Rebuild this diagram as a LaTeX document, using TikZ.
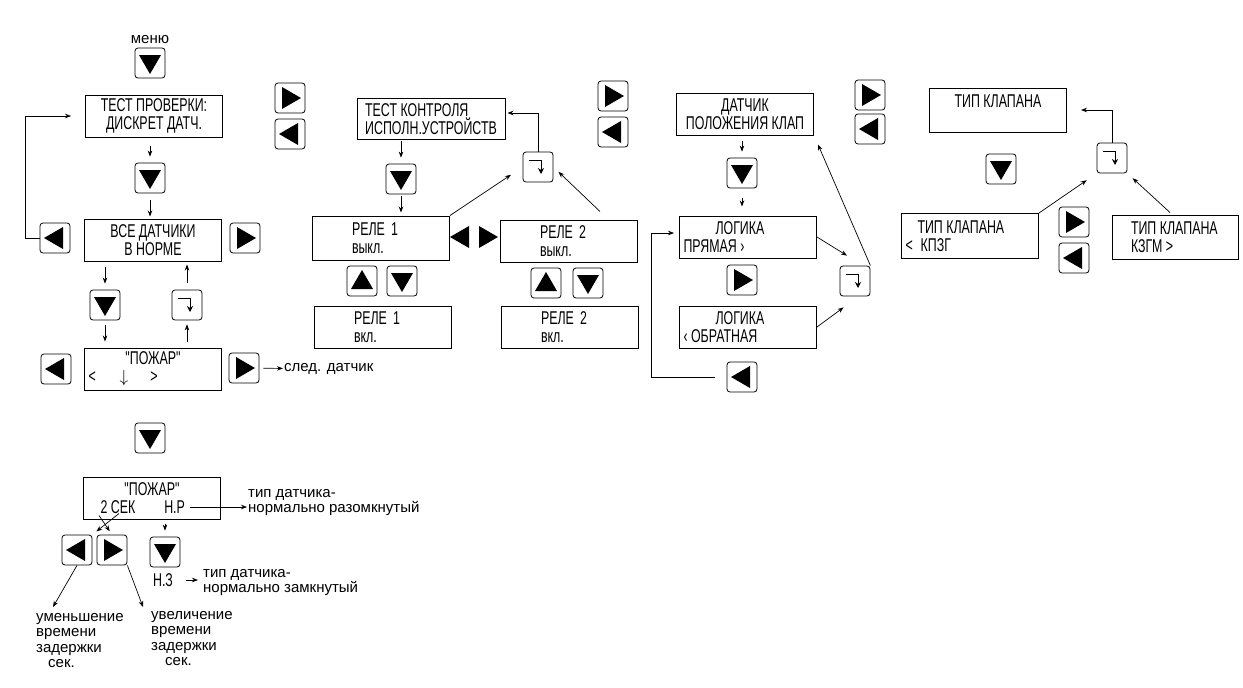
\documentclass[tikz,border=0pt]{standalone}
\usepackage{fontspec}
\setmainfont{Liberation Sans}
\newfontfamily\lcdfont[FakeStretch=0.67]{Liberation Sans}
\usetikzlibrary{arrows.meta,calc,positioning}

\tikzstyle{lcd}=[draw, line width=1pt, minimum width=137pt, minimum height=42pt, inner sep=3pt, align=center, font=\lcdfont\fontsize{18.5}{18}\selectfont]
\tikzstyle{lcdrele}=[lcd, text width=58pt, align=left]
\tikzstyle{note}=[inner sep=1pt, align=left, font=\fontsize{15}{15}\selectfont]
\tikzstyle{arr}=[-{Stealth[length=6pt,width=4.5pt]}, line width=0.7pt]
\tikzstyle{key}=[draw, rounded corners=3pt, minimum size=30pt, inner sep=0pt, line width=0.8pt]
\tikzstyle{tridown}=[path picture={\fill[sharp corners] ($(path picture bounding box.center)+(-11pt,8pt)$) -- ++(22pt,0pt) -- ++(-11pt,-19pt) -- cycle;}]
\tikzstyle{triup}=[path picture={\fill[sharp corners] ($(path picture bounding box.center)+(-11pt,-8pt)$) -- ++(22pt,0pt) -- ++(-11pt,19pt) -- cycle;}]
\tikzstyle{triright}=[path picture={\fill[sharp corners] ($(path picture bounding box.center)+(-8pt,11pt)$) -- ++(0pt,-22pt) -- ++(19pt,11pt) -- cycle;}]
\tikzstyle{trileft}=[path picture={\fill[sharp corners] ($(path picture bounding box.center)+(8pt,11pt)$) -- ++(0pt,-22pt) -- ++(-19pt,11pt) -- cycle;}]
\tikzstyle{kdown}=[key, tridown]
\tikzstyle{kup}=[key, triup]
\tikzstyle{kright}=[key, triright]
\tikzstyle{kleft}=[key, trileft]
\tikzstyle{kenter}=[key, path picture={\draw[sharp corners, line width=0.9pt, -{Stealth[length=6pt,width=6pt]}] ($(path picture bounding box.center)+(-9pt,7pt)$) -- ++(12pt,0pt) -- ++(0pt,-14pt);}]

\begin{document}
\begin{tikzpicture}[x=1pt, y=-1pt]
\fill[white] (0,0) rectangle (1243,688);
\useasboundingbox (0,0) rectangle (1243,688);

% keys
    \foreach \pos/\name in {{(150,63)/kmenu}, {(150,178)/kd1}, {(105,305)/kd2}, {(150,438)/kd3}, {(165,552)/kd4}, {(401,179)/kd5}, {(402,281)/kd6}, {(588,283)/kd7}, {(742,173)/kd8}, {(1001,169)/kd9}}
        \node[kdown] (\name) at \pos {};
    \foreach \pos/\name in {{(362,281)/ku1}, {(546,283)/ku2}}
        \node[kup] (\name) at \pos {};
    \foreach \pos/\name in {{(290,98)/kr1}, {(245,238)/kr2}, {(244,368)/kr3}, {(112,550)/kr4}, {(613,96)/kr5}, {(742,280)/kr6}, {(870,95)/kr7}, {(1074,222)/kr8}}
        \node[kright] (\name) at \pos {};
    \foreach \pos/\name in {{(290,134)/kl1}, {(55,238)/kl2}, {(56,369)/kl3}, {(77,550)/kl4}, {(613,132)/kl5}, {(742,377)/kl6}, {(870,129)/kl7}, {(1074,258)/kl8}}
        \node[kleft] (\name) at \pos {};
    \foreach \pos/\name in {{(187,305)/ke1}, {(538,167)/ke2}, {(855,281)/ke3}, {(1112,158)/ke4}}
        \node[kenter] (\name) at \pos {};
    \node[trileft, minimum size=24pt, inner sep=0pt] (tl) at (461,237) {};
    \node[triright, minimum size=24pt, inner sep=0pt] (tr) at (487,237) {};

% displays
    \node[lcd] (b1) at (154,116) {ТЕСТ ПРОВЕРКИ:\\ДИСКРЕТ ДАТЧ.};
    \node[lcd] (b2) at (153,240) {ВСЕ ДАТЧИКИ\\В НОРМЕ};
    \node[lcd] (b3) at (153,369) {"ПОЖАР"\\\makebox[129pt][l]{<\hspace{24pt}$\downarrow$\hspace{22pt}>}};
    \node[lcd] (b4) at (152,498) {"ПОЖАР"\\\makebox[129pt][l]{\hspace{13pt}2 СЕК\hspace{29pt}Н.Р}};
    \node[lcd, minimum width=148pt, minimum height=41pt, align=left] (b5) at (431,119) {ТЕСТ КОНТРОЛЯ\\ИСПОЛН.УСТРОЙСТВ};
    \node[lcdrele, minimum height=44pt] (b6) at (381,238) {РЕЛЕ 1\\выкл.};
    \node[lcdrele] (b7) at (569,241) {РЕЛЕ 2\\выкл.};
    \node[lcdrele] (b8) at (383,327) {РЕЛЕ 1\\вкл.};
    \node[lcdrele] (b9) at (570,327) {РЕЛЕ 2\\вкл.};
    \node[lcd] (b10) at (745,114) {ДАТЧИК\\ПОЛОЖЕНИЯ КЛАП};
    \node[lcd] (b11) at (748,237) {\makebox[129pt][l]{\hspace{32pt}ЛОГИКА}\\\makebox[129pt][l]{ПРЯМАЯ ›}};
    \node[lcd] (b12) at (748,327) {\makebox[129pt][l]{\hspace{32pt}ЛОГИКА}\\\makebox[129pt][l]{‹ ОБРАТНАЯ}};
    \node[lcd, minimum height=44pt] (b13) at (998,110) {ТИП КЛАПАНА\\\mbox{}};
    \node[lcd, minimum height=45pt] (b14) at (970,236) {\makebox[129pt][l]{\hspace{12pt}ТИП КЛАПАНА}\\\makebox[129pt][l]{<\hspace{8pt}КПЗГ}};
    \node[lcd, minimum width=126pt, minimum height=44pt] (b15) at (1175,237) {\makebox[118pt][l]{\hspace{15pt}ТИП КЛАПАНА}\\\makebox[118pt][l]{\hspace{15pt}КЗГМ >}};

% notes
    \node[note] (t0) at (150,40) {меню};
    \node[note, anchor=west] (t1) at (283,369) {след. датчик};
    \node[note, anchor=west] (t2) at (247,503) {тип датчика-\\нормально разомкнутый};
    \node[inner sep=0pt, font=\lcdfont\fontsize{18.5}{18}\selectfont] (t3) at (163,580) {Н.З};
    \node[note, anchor=west] (t4) at (202,583) {тип датчика-\\нормально замкнутый};
    \node[note, anchor=north west, font=\fontsize{15}{15.5}\selectfont] (t5) at (35,612) {уменьшение\\времени\\задержки\\\hspace*{12pt}сек.};
    \node[note, anchor=north west, font=\fontsize{15}{15.5}\selectfont] (t6) at (150,610) {увеличение\\времени\\задержки\\\hspace*{14pt}сек.};
    \coordinate (np) at (190,507);

% connectors, first column
    \draw[arr, shorten <=8pt, shorten >=6pt] (b1.south -| kd1) -- (kd1);
    \draw[arr, shorten <=7pt, shorten >=2pt] (kd1) -- (kd1 |- b2.north);
    \draw[arr, shorten <=5pt, shorten >=6pt] (b2.south -| kd2) -- (kd2);
    \draw[arr, shorten <=5pt, shorten >=6pt] (kd2) -- (kd2 |- b3.north);
    \draw[arr, shorten <=6pt, shorten >=4pt] (b3.north -| ke1) -- (ke1);
    \draw[arr, shorten <=7pt, shorten >=3pt] (ke1) -- (ke1 |- b2.south);
    \draw[arr, shorten >=14pt] (kl2.west) -- ++(-14,0) |- (b1.west);
    \draw[arr, shorten <=4pt] (kr3) -- (t1);
    \draw[arr] (np) -- (np -| t2.west);
    \draw[arr, shorten >=5pt] ($(b4.south west)+(36,-6)$) -- (kl4.north east);
    \draw[arr, shorten >=4pt] ($(b4.south west)+(16,-4)$) -- (kr4.north);
    \draw[arr, shorten <=4pt, shorten >=6pt] (b4.south -| kd4) -- (kd4);
    \draw[arr, shorten <=13pt, shorten >=4pt] (t3) -- (t3 -| t4.west);
    \draw[arr] (kl4.south) -- ($(t5.north west)+(18,-5)$);
    \draw[arr] (kr4.south east) -- ($(t6.north west)+(-7,-3)$);

% relays
    \draw[arr, shorten <=1pt, shorten >=6pt] (b5.south -| kd5) -- (kd5);
    \draw[arr, shorten <=2pt, shorten >=3pt] (kd5) -- (kd5 |- b6.north);
    \draw[arr, shorten >=14pt] (b6.north east) -- (ke2.west);
    \draw[arr, shorten >=7pt] ($(b7.north)+(31,-8)$) -- (ke2.east);
    \draw[arr] (ke2) |- ($(b5.east)+(2,-6)$);

% damper sensor
    \draw[arr, shorten <=5pt, shorten >=6pt] (b10.south -| kd8) -- (kd8);
    \draw[arr, shorten <=10pt, shorten >=9pt] (kd8) -- (kd8 |- b11.north);
    \draw[arr] (b11.east) -- ($(ke3.north)+(-8,-10)$);
    \draw[arr] (b12.east) -- ($(ke3.south west)+(4,11)$);
    \draw[arr] (ke3.north east) -- ($(b10.south east)+(4,9)$);
    \draw[arr, shorten <=12pt, shorten >=5pt] (kl6.west) -- ++(-75,0) |- ($(b11.west)+(0,-4)$);

% valve type
    \draw[arr, shorten >=14pt] (ke4) |- (b13.east);
    \draw[arr, shorten >=12pt] (b14.north east) -- (ke4.south west);
    \draw[arr, shorten >=7pt] ($(b15.north)+(-5,-2)$) -- (ke4.south east);

\end{tikzpicture}
\end{document}
